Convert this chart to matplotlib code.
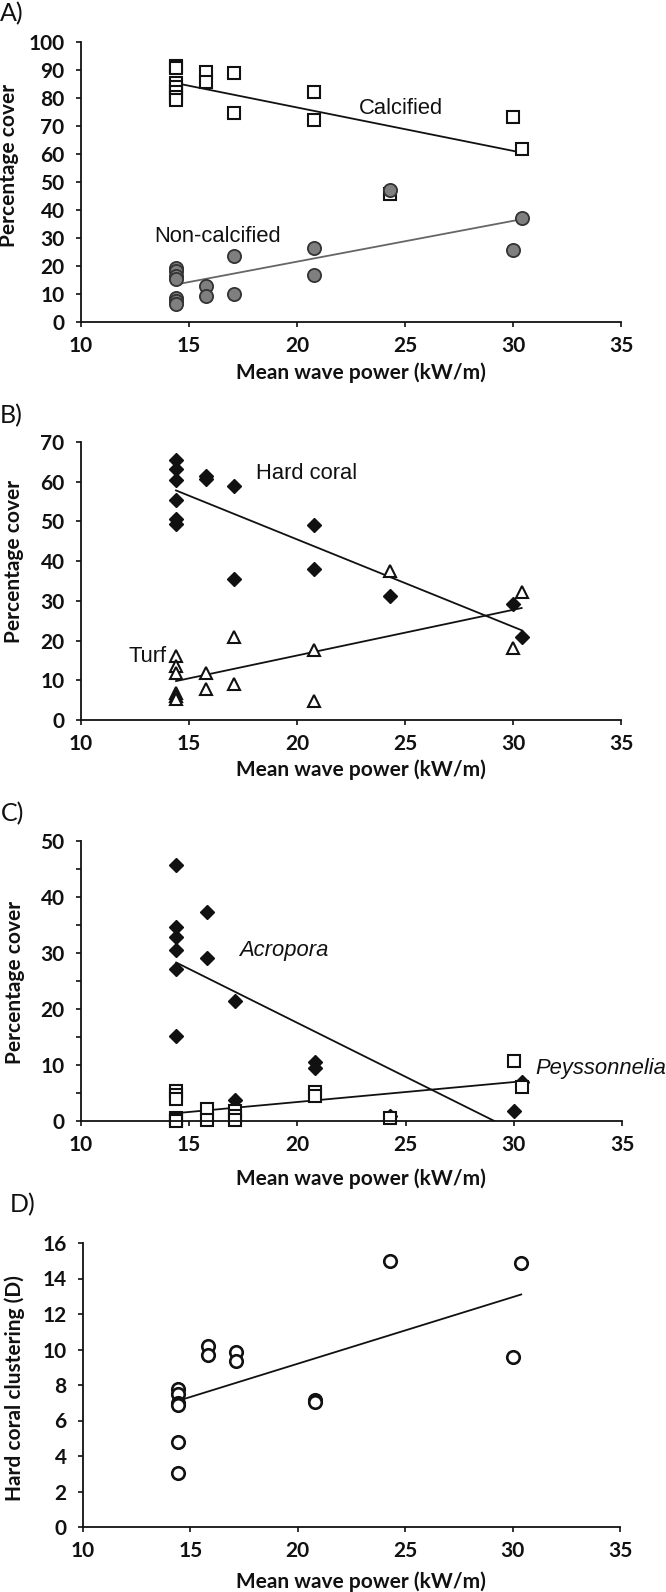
import matplotlib
matplotlib.use("Agg")
import matplotlib.pyplot as plt
from matplotlib.ticker import MultipleLocator

plt.rcParams["font.family"] = ["Lato", "DejaVu Sans"]
plt.rcParams["axes.labelweight"] = "bold"   # axis text looks heavy in the original

# ---- data ----------------------------------------------------------------
# A) calcified / non-calcified cover
wave_a = [14.4, 14.4, 14.4, 14.4, 14.4, 14.4, 14.4, 15.8, 15.8, 17.1, 17.1,
          20.8, 20.8, 24.3, 30.0, 30.4]
calcified = [91.5, 90.8, 85.3, 83.8, 82.3, 80.5, 79.2, 89.4, 85.8, 88.9, 74.6,
             82.0, 72.2, 45.6, 73.2, 61.8]
non_calcified = [19.3, 18.2, 16.3, 15.4, 8.6, 7.6, 6.3, 13.0, 9.4, 23.5, 10.1,
                 26.5, 16.8, 47.1, 25.7, 37.1]

# B) hard coral / turf cover
wave_b = [14.4, 14.4, 14.4, 14.4, 14.4, 14.4, 15.8, 15.8, 17.1, 17.1,
          20.8, 20.8, 24.3, 30.0, 30.4]
hard_coral = [65.4, 63.3, 60.4, 55.5, 50.7, 49.3, 61.4, 60.6, 58.9, 35.6,
              49.0, 38.1, 31.2, 29.3, 21.0]
turf = [16.1, 13.6, 11.9, 6.7, 6.0, 5.4, 11.9, 7.7, 20.8, 9.0,
        17.6, 4.8, 37.6, 18.2, 32.2]

# C) Acropora / Peyssonnelia cover
wave_acro = [14.4, 14.4, 14.4, 14.4, 14.4, 14.4, 15.8, 15.8, 17.1, 17.1,
             20.8, 20.8, 24.3, 30.0, 30.4]
acropora = [45.8, 34.7, 32.8, 30.6, 27.2, 15.1, 37.4, 29.1, 21.4, 3.8,
            10.6, 9.4, 0.9, 1.7, 7.0]
wave_peys = [14.4, 14.4, 14.4, 14.4, 14.4, 14.4, 15.8, 15.8, 17.1, 17.1, 17.1,
             20.8, 20.8, 24.3, 30.0, 30.4]
peyssonnelia = [5.3, 4.7, 3.9, 0.5, 0.2, 0.0, 2.1, 0.1, 1.7, 0.9, 0.2,
                5.1, 4.4, 0.6, 10.7, 6.1]

# D) hard coral clustering
wave_d = [14.4, 14.4, 14.4, 14.4, 14.4, 14.4, 15.8, 15.8, 17.1, 17.1,
          20.8, 20.8, 24.3, 30.0, 30.4]
clustering = [7.8, 7.5, 7.0, 6.9, 4.8, 3.05, 10.17, 9.68, 9.85, 9.36,
              7.16, 7.02, 14.97, 9.57, 14.88]

# trend lines (value at the two ends of the wave-power range)
trend_x = [14.4, 30.4]
trend_calc = [85.3, 60.5]
trend_noncalc = [13.4, 36.7]
trend_hard = [57.8, 22.6]
trend_turf = [9.8, 28.2]
trend_acro = [28.3, -2.5]
trend_peys = [1.4, 7.1]
trend_clus = [7.1, 13.1]

# ---- layout ---------------------------------------------------------------
W, H = 666, 1592
fig = plt.figure(figsize=(W / 100, H / 100), dpi=100)

TICK_FS = 15
LBL_FS = 15
ANN = dict(fontsize=15.8, family=["Liberation Sans", "DejaVu Sans"],
           fontweight="normal", color="#111")


def make_axes(left, right, top, bottom, ymax, ystep, ylabel, ylab_x, ylab_y,
              xlab_y):
    ax = fig.add_axes([left / W, 1 - bottom / H, (right - left) / W,
                       (bottom - top) / H])
    ax.set_xlim(10, 35)
    ax.set_ylim(0, ymax)
    ax.xaxis.set_major_locator(MultipleLocator(5))
    ax.yaxis.set_major_locator(MultipleLocator(ystep))
    # fixed bold tick labels from the locator positions
    xt = [t for t in ax.xaxis.get_majorticklocs() if 10 <= t <= 35]
    yt = [t for t in ax.yaxis.get_majorticklocs() if 0 <= t <= ymax]
    ax.set_xticks(xt, [f"{t:g}" for t in xt], fontweight="bold")
    ax.set_yticks(yt, [f"{t:g}" for t in yt], fontweight="bold")
    for s in ["top", "right"]:
        ax.spines[s].set_visible(False)
    for s in ["left", "bottom"]:
        ax.spines[s].set_linewidth(1.3)
        ax.spines[s].set_color("#111")
    ax.tick_params(direction="out", length=3.8, width=1.2, color="#111",
                   labelsize=TICK_FS, labelcolor="#111")
    ax.tick_params(axis="y", pad=8)
    ax.tick_params(axis="x", pad=6)
    ax.set_xlabel("Mean wave power (kW/m)", fontsize=LBL_FS, color="#111")
    ax.xaxis.set_label_coords(361 / W, 1 - xlab_y / H, transform=fig.transFigure)
    ax.xaxis.label.set_va("center")
    ax.set_ylabel(ylabel, fontsize=LBL_FS, color="#111")
    ax.yaxis.set_label_coords(ylab_x / W, 1 - ylab_y / H, transform=fig.transFigure)
    ax.yaxis.label.set_va("center")
    return ax


def panel_tag(text, x, y):
    fig.text(x / W, 1 - y / H, text, fontsize=18, ha="left", va="center",
             color="#111")


# A)
ax = make_axes(81, 621, 42, 322, 100, 10, "Percentage cover", 9, 165, 373)
panel_tag("A)", 0, 14)
ax.plot(trend_x, trend_calc, color="#111", lw=1.3)
ax.plot(trend_x, trend_noncalc, color="#666", lw=1.3)
ax.plot(wave_a, calcified, "s", ms=8.5, mfc="white", mec="#111", mew=1.5,
        ls="none", clip_on=False)
ax.plot(wave_a, non_calcified, "o", ms=9.5, mfc="#7f7f7f", mec="#333", mew=1.3,
        ls="none", clip_on=False)
ax.text(24.8, 76.4, "Calcified", ha="center", va="center", **ANN)
ax.text(16.3, 30.7, "Non-calcified", ha="center", va="center", **ANN)

# B)
ax = make_axes(81, 621, 442, 720, 70, 10, "Percentage cover", 14, 561, 770)
panel_tag("B)", 0, 416)
ax.plot(trend_x, trend_hard, color="#111", lw=1.3)
ax.plot(trend_x, trend_turf, color="#111", lw=1.3)
ax.plot(wave_b, hard_coral, "D", ms=7.5, mfc="#111", mec="#111", mew=1,
        ls="none", clip_on=False)
ax.plot(wave_b, turf, "^", ms=9, mfc="white", mec="#111", mew=1.5,
        ls="none", clip_on=False)
ax.text(20.45, 62, "Hard coral", ha="center", va="center", **ANN)
ax.text(13.06, 15.9, "Turf", ha="center", va="center", **ANN)

# C)
ax = make_axes(81, 622, 841, 1121, 50, 10, "Percentage cover", 15, 982, 1179)
panel_tag("C)", 1, 814)
ax.yaxis.set_minor_locator(MultipleLocator(5))
ax.tick_params(axis="y", which="minor", direction="out", length=3.8,
               width=1.2, color="#111")
ax.plot(trend_x, trend_acro, color="#111", lw=1.3)
ax.plot(trend_x, trend_peys, color="#111", lw=1.3)
ax.plot(wave_acro, acropora, "D", ms=7.5, mfc="#111", mec="#111", mew=1,
        ls="none", clip_on=False)
ax.plot(wave_peys, peyssonnelia, "s", ms=8.5, mfc="white", mec="#111", mew=1.5,
        ls="none", clip_on=False)
ax.text(19.35, 30.4, "Acropora", ha="center", va="center", style="italic",
        **ANN)
ax.text(31.0, 9.4, "Peyssonnelia", ha="left", va="center", style="italic",
        clip_on=False, **ANN)

# D)
ax = make_axes(83, 620, 1243, 1527, 16, 2, "Hard coral clustering (D)", 15,
               1388, 1582)
panel_tag("D)", 10, 1205)
ax.plot(trend_x, trend_clus, color="#111", lw=1.3)
ax.plot(wave_d, clustering, "o", ms=9, mfc="white", mec="#111", mew=1.9,
        ls="none", clip_on=False)

fig.savefig("out.png", dpi=100)
